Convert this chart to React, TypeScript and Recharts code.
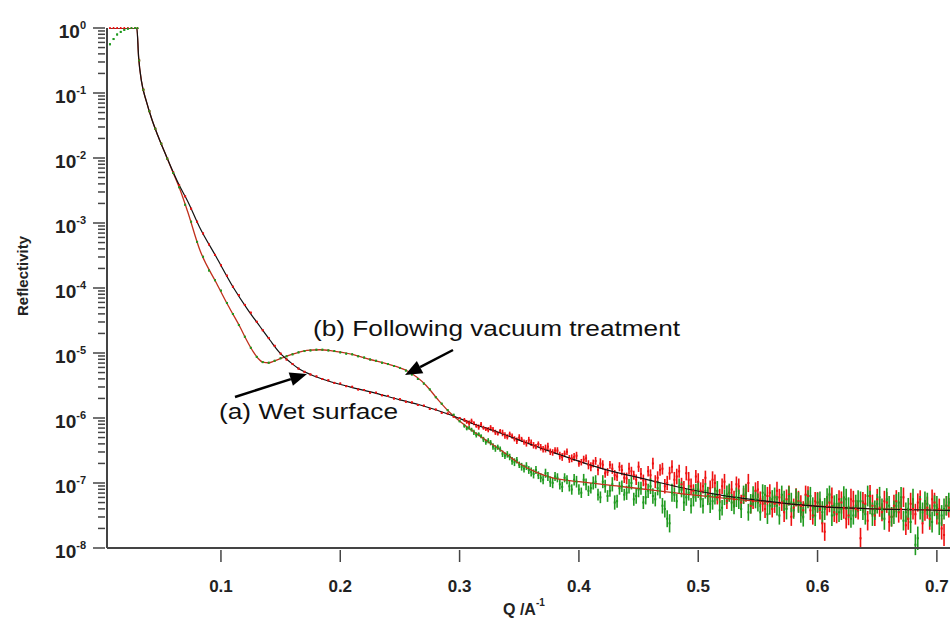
import React from 'react';
import { ComposedChart, Line, Scatter, XAxis, YAxis, ErrorBar } from 'recharts';

// Q values (A^-1) of the measured points, shared by both samples
const qData = [
  0.007, 0.010, 0.013, 0.016, 0.019, 0.022, 0.025, 0.028, 0.030, 0.0315,
  0.035, 0.040, 0.045, 0.050, 0.055, 0.060, 0.065, 0.070, 0.075, 0.080,
  0.085, 0.090, 0.095, 0.100, 0.105, 0.110, 0.115, 0.120, 0.125, 0.130,
  0.135, 0.140, 0.145, 0.150, 0.155, 0.160, 0.165, 0.170, 0.175, 0.180,
  0.185, 0.190, 0.195, 0.200, 0.205, 0.210, 0.215, 0.220, 0.225, 0.230,
  0.235, 0.240, 0.245, 0.250, 0.255, 0.260, 0.265, 0.270, 0.275, 0.280,
  0.285, 0.290, 0.295, 0.300,
  0.304, 0.308, 0.312, 0.316, 0.320, 0.324, 0.328, 0.332, 0.336, 0.340,
  0.344, 0.348, 0.352, 0.356, 0.360, 0.364, 0.368, 0.372, 0.376, 0.380,
  0.384, 0.388, 0.392, 0.396, 0.400, 0.404, 0.408, 0.412, 0.416, 0.420,
  0.424, 0.428, 0.432, 0.436, 0.440, 0.444, 0.448, 0.452, 0.456, 0.460,
  0.464, 0.468, 0.472, 0.476, 0.480, 0.484, 0.488, 0.492, 0.496, 0.500,
  0.504, 0.508, 0.512, 0.516, 0.520, 0.524, 0.528, 0.532, 0.536, 0.540,
  0.544, 0.548, 0.552, 0.556, 0.560, 0.564, 0.568, 0.572, 0.576, 0.580,
  0.584, 0.588, 0.592, 0.596, 0.600, 0.604, 0.608, 0.612, 0.616, 0.620,
  0.624, 0.628, 0.632, 0.636, 0.640, 0.644, 0.648, 0.652, 0.656, 0.660,
  0.664, 0.668, 0.672, 0.676, 0.680, 0.684, 0.688, 0.692, 0.696, 0.700,
  0.704, 0.708,
];

// interleaved Q values of the noisy high-Q points
const qData2 = [
  0.306, 0.310, 0.314, 0.318, 0.322, 0.326, 0.330, 0.334, 0.338, 0.342,
  0.346, 0.350, 0.354, 0.358, 0.362, 0.366, 0.370, 0.374, 0.378, 0.382,
  0.386, 0.390, 0.394, 0.398, 0.402, 0.406, 0.410, 0.414, 0.418, 0.422,
  0.426, 0.430, 0.434, 0.438, 0.442, 0.446, 0.450, 0.454, 0.458, 0.462,
  0.466, 0.470, 0.474, 0.478, 0.482, 0.486, 0.490, 0.494, 0.498, 0.502,
  0.506, 0.510, 0.514, 0.518, 0.522, 0.526, 0.530, 0.534, 0.538, 0.542,
  0.546, 0.550, 0.554, 0.558, 0.562, 0.566, 0.570, 0.574, 0.578, 0.582,
  0.586, 0.590, 0.594, 0.598, 0.602, 0.606, 0.610, 0.614, 0.618, 0.622,
  0.626, 0.630, 0.634, 0.638, 0.642, 0.646, 0.650, 0.654, 0.658, 0.662,
  0.666, 0.670, 0.674, 0.678, 0.682, 0.686, 0.690, 0.694, 0.698, 0.702,
  0.706, 0.710,
];

// (a) Wet surface: log10(Reflectivity) of the measured points (red)
const logReflA = [
  0, 0, 0, 0, 0, 0, 0, 0, 0, -0.5,
  -0.95, -1.28, -1.55, -1.78, -2.01, -2.22, -2.42, -2.59, -2.78, -2.98,
  -3.16, -3.33, -3.49, -3.65, -3.81, -3.98, -4.11, -4.26, -4.38, -4.52,
  -4.65, -4.77, -4.89, -5.01, -5.10, -5.17, -5.24, -5.29, -5.33, -5.36,
  -5.40, -5.42, -5.46, -5.47, -5.51, -5.52, -5.56, -5.57, -5.61, -5.61,
  -5.65, -5.66, -5.70, -5.71, -5.75, -5.76, -5.80, -5.81, -5.86, -5.87,
  -5.92, -5.93, -5.98, -6.00,
  -6.03, -6.08, -6.08, -6.14, -6.15, -6.18, -6.18, -6.24, -6.23, -6.29,
  -6.28, -6.35, -6.33, -6.39, -6.38, -6.44, -6.45, -6.47, -6.52, -6.50,
  -6.58, -6.55, -6.63, -6.60, -6.70, -6.64, -6.72, -6.70, -6.80, -6.72,
  -6.83, -6.78, -6.90, -6.80, -6.93, -6.82, -6.95, -6.86, -7.02, -6.88,
  -6.98, -6.80, -7.05, -6.85, -6.95, -6.82, -7.08, -6.95, -7.12, -6.98,
  -7.05, -7.18, -6.95, -7.22, -7.05, -7.28, -7.10, -7.02, -7.30, -7.15,
  -7.35, -7.12, -7.25, -7.40, -7.15, -7.32, -7.22, -7.45, -7.18, -7.38,
  -7.28, -7.42, -7.20, -7.50, -7.30, -7.62, -7.35, -7.22, -7.48, -7.30,
  -7.55, -7.25, -7.40, -7.85, -7.32, -7.20, -7.50, -7.38, -7.28, -7.60,
  -7.35, -7.45, -7.22, -7.55, -7.40, -7.30, -7.62, -7.38, -7.25, -7.48,
  -7.70, -7.35,
];
const logReflA2 = [
  -6.06, -6.05, -6.12, -6.10, -6.17, -6.15, -6.22, -6.20, -6.27, -6.25,
  -6.32, -6.30, -6.37, -6.34, -6.42, -6.40, -6.48, -6.44, -6.53, -6.50,
  -6.60, -6.52, -6.62, -6.58, -6.68, -6.62, -6.75, -6.66, -6.70, -6.85,
  -6.72, -6.88, -6.75, -6.92, -6.78, -6.88, -6.75, -6.96, -6.82, -6.70,
  -6.92, -6.78, -7.00, -6.75, -6.90, -7.02, -6.85, -7.05, -6.90, -7.12,
  -6.92, -7.08, -7.00, -7.20, -6.98, -7.15, -7.25, -7.05, -7.20, -7.00,
  -7.28, -7.10, -7.32, -7.20, -7.40, -7.12, -7.30, -7.25, -7.52, -7.22,
  -7.35, -7.18, -7.42, -7.28, -7.40, -7.75, -7.30, -7.45, -7.25, -7.38,
  -7.50, -7.28, -7.42, -7.30, -7.58, -7.35, -7.25, -7.45, -7.30, -7.52,
  -7.28, -7.40, -7.65, -7.32, -7.48, -7.25, -7.42, -7.55, -7.30, -7.40,
  -7.80, -7.38,
];

// (b) Following vacuum treatment: log10(Reflectivity) of the measured points (green)
const logReflB = [
  -0.25, -0.17, -0.10, -0.06, -0.03, -0.01, 0, 0, 0, -0.5,
  -0.95, -1.28, -1.55, -1.78, -2.01, -2.23, -2.45, -2.72, -2.98, -3.29,
  -3.52, -3.73, -3.88, -4.04, -4.23, -4.40, -4.57, -4.75, -4.92, -5.06,
  -5.14, -5.15, -5.12, -5.08, -5.05, -5.02, -4.99, -4.97, -4.96, -4.95,
  -4.95, -4.96, -4.97, -4.99, -5.01, -5.02, -5.05, -5.07, -5.10, -5.12,
  -5.15, -5.17, -5.20, -5.23, -5.27, -5.33, -5.40, -5.47, -5.56, -5.68,
  -5.78, -5.88, -5.95, -6.05,
  -6.12, -6.15, -6.22, -6.25, -6.33, -6.35, -6.44, -6.45, -6.55, -6.56,
  -6.66, -6.65, -6.75, -6.74, -6.83, -6.80, -6.92, -6.85, -6.98, -6.90,
  -7.02, -6.92, -7.05, -6.95, -7.10, -6.95, -7.12, -7.00, -7.18, -6.98,
  -7.20, -7.02, -7.28, -7.05, -7.15, -7.00, -7.20, -7.08, -7.22, -7.05,
  -7.25, -7.12, -7.40, -7.62, -7.18, -7.05, -7.30, -7.15, -7.22, -7.10,
  -7.35, -7.20, -7.28, -7.12, -7.38, -7.18, -7.30, -7.22, -7.40, -7.15,
  -7.32, -7.25, -7.45, -7.18, -7.35, -7.22, -7.50, -7.28, -7.20, -7.42,
  -7.30, -7.52, -7.25, -7.38, -7.30, -7.45, -7.22, -7.50, -7.32, -7.40,
  -7.25, -7.55, -7.35, -7.28, -7.48, -7.30, -7.42, -7.22, -7.55, -7.35,
  -7.45, -7.30, -7.58, -7.40, -7.25, -7.85, -7.45, -7.32, -7.60, -7.38,
  -7.50, -7.35,
];
const logReflB2 = [
  -6.16, -6.18, -6.26, -6.28, -6.37, -6.38, -6.47, -6.48, -6.58, -6.60,
  -6.68, -6.72, -6.78, -6.80, -6.86, -6.88, -6.95, -6.90, -7.00, -6.92,
  -7.06, -6.95, -7.10, -6.98, -7.15, -7.02, -7.08, -6.98, -7.22, -7.05,
  -7.12, -7.30, -7.08, -7.18, -7.05, -7.25, -7.10, -7.30, -7.12, -7.20,
  -7.08, -7.35, -7.55, -7.15, -7.28, -7.10, -7.22, -7.35, -7.15, -7.25,
  -7.12, -7.32, -7.20, -7.42, -7.22, -7.15, -7.35, -7.25, -7.18, -7.45,
  -7.20, -7.30, -7.15, -7.48, -7.25, -7.35, -7.18, -7.40, -7.30, -7.22,
  -7.45, -7.32, -7.20, -7.50, -7.28, -7.40, -7.18, -7.35, -7.45, -7.22,
  -7.38, -7.50, -7.28, -7.42, -7.20, -7.48, -7.32, -7.40, -7.25, -7.52,
  -7.35, -7.22, -7.45, -7.60, -7.95, -7.38, -7.28, -7.50, -7.35, -7.62,
  -7.40, -7.30,
];

// error half-widths (decades) for the noisy points from Q = 0.304 on
const errA = [
  0.03, 0.04, 0.03, 0.04, 0.03, 0.04, 0.04, 0.03, 0.05, 0.04,
  0.04, 0.05, 0.04, 0.05, 0.05, 0.04, 0.05, 0.06, 0.05, 0.05,
  0.06, 0.05, 0.06, 0.06, 0.05, 0.06, 0.07, 0.06, 0.08, 0.07,
  0.06, 0.08, 0.07, 0.08, 0.09, 0.07, 0.08, 0.09, 0.08, 0.09,
  0.10, 0.09, 0.11, 0.10, 0.12, 0.10, 0.11, 0.12, 0.10, 0.13,
  0.11, 0.12, 0.13, 0.11, 0.12, 0.12, 0.13, 0.12, 0.12, 0.14,
  0.12, 0.13, 0.12, 0.14, 0.13, 0.14, 0.13, 0.15, 0.14, 0.14,
  0.16, 0.14, 0.15, 0.14, 0.16, 0.14, 0.15, 0.15, 0.14, 0.17,
  0.15, 0.16, 0.14, 0.16, 0.15, 0.17, 0.16, 0.14, 0.16, 0.15,
  0.17, 0.16, 0.15, 0.17, 0.16, 0.14, 0.16, 0.17, 0.15, 0.16,
  0.17, 0.15,
];
const errB = [
  0.03, 0.03, 0.04, 0.03, 0.04, 0.04, 0.05, 0.04, 0.05, 0.05,
  0.06, 0.05, 0.06, 0.06, 0.07, 0.06, 0.07, 0.07, 0.08, 0.07,
  0.08, 0.07, 0.08, 0.09, 0.08, 0.09, 0.08, 0.10, 0.09, 0.10,
  0.09, 0.11, 0.10, 0.09, 0.11, 0.10, 0.12, 0.10, 0.11, 0.12,
  0.11, 0.12, 0.13, 0.14, 0.11, 0.12, 0.13, 0.12, 0.14, 0.13,
  0.12, 0.14, 0.13, 0.15, 0.12, 0.14, 0.13, 0.15, 0.14, 0.13,
  0.15, 0.14, 0.13, 0.15, 0.14, 0.15, 0.14, 0.16, 0.15, 0.13,
  0.16, 0.15, 0.14, 0.16, 0.15, 0.17, 0.14, 0.16, 0.15, 0.17,
  0.16, 0.14, 0.17, 0.15, 0.16, 0.18, 0.15, 0.16, 0.17, 0.15,
  0.18, 0.16, 0.15, 0.17, 0.16, 0.18, 0.15, 0.17, 0.16, 0.18,
  0.16, 0.15,
];
const smoothErr = 0.015;
const nSmooth = 64;

// model fits
const qFitA = [
  0.007, 0.0295, 0.031, 0.0335, 0.0375, 0.042, 0.047, 0.0544, 0.06, 0.0656,
  0.072, 0.082, 0.096, 0.11, 0.122, 0.133, 0.141, 0.149, 0.158, 0.166,
  0.175, 0.19, 0.208, 0.23, 0.25, 0.267, 0.292, 0.31, 0.334, 0.35,
  0.38, 0.418, 0.46, 0.493, 0.52, 0.557, 0.6, 0.65, 0.711,
];
const logFitA = [
  0, 0, -0.45, -0.83, -1.13, -1.4, -1.65, -1.98, -2.22, -2.44,
  -2.66, -3.06, -3.52, -3.98, -4.32, -4.6, -4.8, -4.99, -5.14, -5.25,
  -5.33, -5.43, -5.52, -5.62, -5.72, -5.8, -5.95, -6.08, -6.23, -6.34,
  -6.54, -6.77, -6.96, -7.1, -7.19, -7.28, -7.36, -7.40, -7.42,
];
const qFitB = [
  0.007, 0.0295, 0.031, 0.0335, 0.0375, 0.042, 0.047, 0.0544, 0.06, 0.0656,
  0.072, 0.0824, 0.0964, 0.106, 0.116, 0.122, 0.127, 0.131, 0.135, 0.14,
  0.145, 0.155, 0.165, 0.172, 0.183, 0.194, 0.21, 0.225, 0.24, 0.2556,
  0.272, 0.282, 0.292, 0.305, 0.322, 0.335, 0.35, 0.365, 0.378, 0.40,
  0.434, 0.493, 0.568, 0.62, 0.711,
];
const logFitB = [
  0, 0, -0.45, -0.83, -1.13, -1.4, -1.65, -1.98, -2.23, -2.48,
  -2.82, -3.42, -3.93, -4.27, -4.6, -4.82, -4.98, -5.08, -5.14, -5.15,
  -5.12, -5.05, -4.99, -4.96, -4.95, -4.97, -5.02, -5.1, -5.17, -5.27,
  -5.5, -5.72, -5.92, -6.12, -6.34, -6.5, -6.7, -6.84, -6.92, -6.98,
  -7.05, -7.18, -7.31, -7.38, -7.42,
];

const xTicks = [0.1, 0.2, 0.3, 0.4, 0.5, 0.6, 0.7];
const yExponents = [0, -1, -2, -3, -4, -5, -6, -7, -8];
const yMinorMultipliers = [2, 3, 4, 5, 6, 7, 8, 9];

const RED = '#ee1111';
const GREEN = '#1f9a1f';
const FIT_A = '#111111';
const FIT_B = '#c0301c';
const AXIS = '#444444';
const FONT = '"Liberation Sans", Arial, sans-serif';

const buildData = (qs: number[], logs: number[], errs: number[], smoothCount: number) =>
  qs.map((q, i) => {
    const r = Math.pow(10, logs[i]);
    const e = i < smoothCount ? smoothErr : errs[i - smoothCount];
    return { q, r, err: [r - r / Math.pow(10, e), r * Math.pow(10, e) - r] };
  });
const buildFit = (qs: number[], logs: number[]) =>
  qs.map((q, i) => ({ q, r: Math.pow(10, logs[i]) }));

const dataA = buildData(qData, logReflA, errA, nSmooth).concat(buildData(qData2, logReflA2, errA, 0));
const dataB = buildData(qData, logReflB, errB, nSmooth).concat(buildData(qData2, logReflB2, errB, 0));
const fitA = buildFit(qFitA, logFitA);
const fitB = buildFit(qFitB, logFitB);

const yTicks: number[] = [];
yExponents.forEach((e) => yTicks.push(Math.pow(10, e)));
yExponents.forEach((e) => {
  if (e < 0) yMinorMultipliers.forEach((m) => yTicks.push(m * Math.pow(10, e)));
});

const YTick = (props: any) => {
  const { x, y, payload } = props;
  const lg = Math.log10(payload.value);
  const exp = Math.round(lg);
  const major = Math.abs(lg - exp) < 1e-6;
  return (
    <g>
      <line x1={x - (major ? 12 : 7)} x2={x} y1={y} y2={y} stroke={AXIS} strokeWidth={1.5} />
      {major && (
        <text x={x - 19} y={y + 10} textAnchor="end" fontFamily={FONT} fontWeight="bold" fontSize={19} fill="#222">
          <tspan>10</tspan>
          <tspan dy={-9} fontSize={11}>{String(exp)}</tspan>
        </text>
      )}
    </g>
  );
};

const XTick = (props: any) => {
  const { x, y, payload } = props;
  return (
    <g>
      <line x1={x} x2={x} y1={y} y2={y + 12} stroke={AXIS} strokeWidth={1.5} />
      <text x={x} y={y + 42} textAnchor="middle" fontFamily={FONT} fontWeight="bold" fontSize={17} fill="#222">
        {String(payload.value)}
      </text>
    </g>
  );
};

const dot = (color: string) => (p: any) =>
  p.cx == null || p.cy == null ? <g /> : <rect x={p.cx - 1} y={p.cy - 1} width={2} height={2} fill={color} />;

const Arrow = ({ from, to }: { from: [number, number]; to: [number, number] }) => {
  const dx = to[0] - from[0];
  const dy = to[1] - from[1];
  const len = Math.sqrt(dx * dx + dy * dy);
  const ux = dx / len;
  const uy = dy / len;
  const hl = 17;
  const hw = 7;
  const bx = to[0] - ux * hl;
  const by = to[1] - uy * hl;
  const pts = `${to[0]},${to[1]} ${bx - uy * hw},${by + ux * hw} ${bx + uy * hw},${by - ux * hw}`;
  return (
    <g>
      <line x1={from[0]} y1={from[1]} x2={bx} y2={by} stroke="#000" strokeWidth={2.5} />
      <polygon points={pts} fill="#000" />
    </g>
  );
};

export default function App() {
  return (
    <div style={{ position: 'absolute', left: 0, top: 0, width: 950, height: 630, background: '#fff' }}>
      <ComposedChart width={950} height={630} margin={{ top: 28, right: 0, bottom: 0, left: 0 }}>
        <XAxis
          dataKey="q"
          type="number"
          domain={[0.0045, 0.711]}
          ticks={xTicks}
          interval={0}
          allowDataOverflow
          height={82}
          tickSize={0}
          tickLine={false}
          tick={XTick}
          axisLine={{ stroke: AXIS, strokeWidth: 2 }}
        />
        <YAxis
          dataKey="r"
          type="number"
          scale="log"
          domain={[1e-8, 1]}
          ticks={yTicks}
          interval={0}
          allowDataOverflow
          width={107}
          tickSize={0}
          tickLine={false}
          tick={YTick}
          axisLine={{ stroke: AXIS, strokeWidth: 2 }}
        />
        <Scatter data={dataA} dataKey="r" fill={RED} shape={dot(RED)} isAnimationActive={false}>
          <ErrorBar dataKey="err" direction="y" width={0} stroke={RED} strokeWidth={1.6} />
        </Scatter>
        <Scatter data={dataB} dataKey="r" fill={GREEN} shape={dot(GREEN)} isAnimationActive={false}>
          <ErrorBar dataKey="err" direction="y" width={0} stroke={GREEN} strokeWidth={1.6} />
        </Scatter>
        <Line data={fitB} dataKey="r" type="monotone" stroke={FIT_B} strokeWidth={1.3} dot={false} isAnimationActive={false} />
        <Line data={fitA} dataKey="r" type="monotone" stroke={FIT_A} strokeWidth={1.2} dot={false} isAnimationActive={false} />
      </ComposedChart>
      <svg width={950} height={630} style={{ position: 'absolute', left: 0, top: 0, pointerEvents: 'none' }}>
        <text
          x={28}
          y={276}
          transform="rotate(-90 28 276)"
          textAnchor="middle"
          fontFamily={FONT}
          fontWeight="bold"
          fontSize={15}
          fill="#222"
        >
          Reflectivity
        </text>
        <text x={503} y={615} fontFamily={FONT} fontWeight="bold" fontSize={16} fill="#222">
          <tspan>Q /A</tspan>
          <tspan dy={-9} fontSize={10}>-1</tspan>
        </text>
        <text x={313} y={336} fontFamily={FONT} fontSize={22} fill="#111" textLength={367} lengthAdjust="spacingAndGlyphs">
          (b) Following vacuum treatment
        </text>
        <text x={219} y={419} fontFamily={FONT} fontSize={22} fill="#111" textLength={179} lengthAdjust="spacingAndGlyphs">
          (a) Wet surface
        </text>
        <Arrow from={[453, 350]} to={[405, 375]} />
        <Arrow from={[235, 397]} to={[307, 374]} />
      </svg>
    </div>
  );
}
